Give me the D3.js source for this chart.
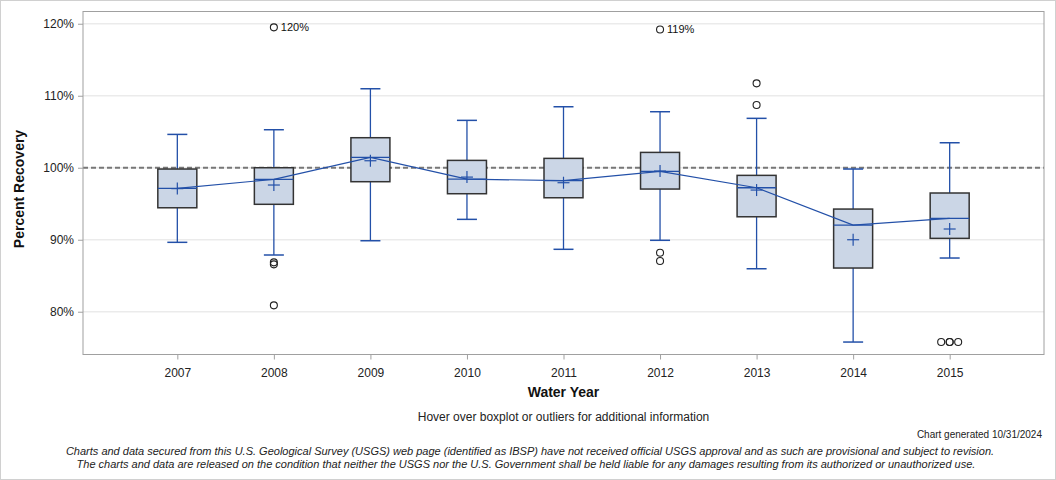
<!DOCTYPE html>
<html><head><meta charset="utf-8">
<script src="https://cdn.jsdelivr.net/npm/d3@7/dist/d3.min.js"></script>
<style>
body{margin:0;background:#fff;}
svg{display:block;font-family:"Liberation Sans",Arial,sans-serif;}
</style></head>
<body>
<svg id="c" width="1056" height="480"></svg>
<script>
const years = ["2007","2008","2009","2010","2011","2012","2013","2014","2015"];
const whiskerLow  = [89.64, 87.88, 89.86, 92.83, 88.67, 89.92, 85.97, 75.79, 87.46];
const q1          = [94.44, 94.92, 98.06, 96.39, 95.83, 97.04, 93.19, 86.07, 90.19];
const median      = [97.14, 98.39, 101.44, 98.43, 98.20, 99.50, 97.22, 92.04, 92.97];
const mean        = [97.10, 97.60, 100.97, 98.70, 97.92, 99.54, 96.90, 90.00, 91.49];
const q3          = [99.82, 100.00, 104.17, 101.02, 101.30, 102.13, 98.94, 94.26, 96.49];
const whiskerHigh = [104.63, 105.28, 110.97, 106.58, 108.47, 107.78, 106.86, 99.82, 103.47];
const outliers = [
  [],
  [119.5, 86.86, 86.58, 80.89],
  [],
  [],
  [],
  [119.2, 88.2, 87.04],
  [111.72, 108.71],
  [],
  [75.79, 75.79, 75.79, 75.79]
];
const clippedLabels = [
  {year:"2008", value:119.5, text:"120%"},
  {year:"2012", value:119.2, text:"119%"}
];
const yTicks = [80, 90, 100, 110, 120];
const referenceValue = 100;

const svg = d3.select("#c");
const W = 1056, H = 480;
const L = 83, R = 1044, T = 11.5, B = 354.5;

svg.append("rect").attr("x",0.5).attr("y",0.5).attr("width",W-1).attr("height",H-1)
  .attr("fill","#fff").attr("stroke","#d0d0d0");

const x = d3.scalePoint().domain(years).range([L, R]).padding(0.977);
const y = d3.scaleLinear().domain([74.06, 121.7]).range([B, T]);

// gridlines
svg.append("g").selectAll("line").data(yTicks).join("line")
  .attr("x1", L).attr("x2", R)
  .attr("y1", d => y(d)).attr("y2", d => y(d))
  .attr("stroke", "#ebebeb").attr("stroke-width", 1.5);

// reference line
svg.append("line").attr("x1", L).attr("x2", R)
  .attr("y1", y(referenceValue)).attr("y2", y(referenceValue))
  .attr("stroke", "#777").attr("stroke-width", 2).attr("stroke-dasharray", "5,3");

// frame
svg.append("rect").attr("x", L).attr("y", T).attr("width", R - L).attr("height", B - T)
  .attr("fill", "none").attr("stroke", "#a0a0a0");

// axes
const yAxis = svg.append("g").attr("transform", `translate(${L},0)`)
  .call(d3.axisLeft(y).tickValues(yTicks).tickSize(5).tickPadding(4).tickFormat(d => d + "%"));
yAxis.select(".domain").remove();
yAxis.selectAll("line").attr("stroke", "#a0a0a0");
yAxis.selectAll("text").attr("font-size", 12).attr("fill", "#222")
  .attr("font-family", '"Liberation Sans",Arial,sans-serif');

const xAxis = svg.append("g").attr("transform", `translate(0,${B})`)
  .call(d3.axisBottom(x).tickSize(5).tickPadding(9));
xAxis.select(".domain").remove();
xAxis.selectAll("line").attr("stroke", "#a0a0a0");
xAxis.selectAll("text").attr("font-size", 12).attr("fill", "#222")
  .attr("font-family", '"Liberation Sans",Arial,sans-serif');

const blue = "#2350a8";
const boxHalf = 19.5, capHalf = 10;
const data = years.map((yr, i) => ({yr, lo: whiskerLow[i], q1: q1[i], med: median[i], mean: mean[i], q3: q3[i], hi: whiskerHigh[i], out: outliers[i]}));

const g = svg.append("g");
data.forEach(d => {
  const cx = x(d.yr);
  g.append("line").attr("x1", cx).attr("x2", cx).attr("y1", y(d.q3)).attr("y2", y(d.hi)).attr("stroke", blue).attr("stroke-width", 1.3);
  g.append("line").attr("x1", cx).attr("x2", cx).attr("y1", y(d.q1)).attr("y2", y(d.lo)).attr("stroke", blue).attr("stroke-width", 1.3);
  g.append("line").attr("x1", cx - capHalf).attr("x2", cx + capHalf).attr("y1", y(d.hi)).attr("y2", y(d.hi)).attr("stroke", blue).attr("stroke-width", 1.5);
  g.append("line").attr("x1", cx - capHalf).attr("x2", cx + capHalf).attr("y1", y(d.lo)).attr("y2", y(d.lo)).attr("stroke", blue).attr("stroke-width", 1.5);
  g.append("rect").attr("x", cx - boxHalf).attr("y", y(d.q3)).attr("width", boxHalf * 2).attr("height", y(d.q1) - y(d.q3))
    .attr("fill", "#cbd6e6").attr("stroke", "#333").attr("stroke-width", 1.5);
  g.append("line").attr("x1", cx - boxHalf).attr("x2", cx + boxHalf).attr("y1", y(d.med)).attr("y2", y(d.med)).attr("stroke", blue).attr("stroke-width", 1.3);
  const my = y(d.mean);
  g.append("line").attr("x1", cx - 6).attr("x2", cx + 6).attr("y1", my).attr("y2", my).attr("stroke", blue).attr("stroke-width", 1.2);
  g.append("line").attr("x1", cx).attr("x2", cx).attr("y1", my - 6).attr("y2", my + 6).attr("stroke", blue).attr("stroke-width", 1.2);
});

// median line
svg.append("path").datum(data)
  .attr("d", d3.line().x(d => x(d.yr)).y(d => y(d.med)))
  .attr("fill", "none").attr("stroke", blue).attr("stroke-width", 1.2);

// outliers (identical values spread sideways)
const spread = [0, -8.5, 8.5, 0];
data.forEach(d => {
  const seen = {};
  d.out.forEach(v => {
    const k = v.toFixed(2);
    const n = seen[k] || 0; seen[k] = n + 1;
    svg.append("circle").attr("cx", x(d.yr) + spread[n % spread.length]).attr("cy", y(v)).attr("r", 3.5)
      .attr("fill", "none").attr("stroke", "#222").attr("stroke-width", 1.1);
  });
});

clippedLabels.forEach(l => {
  svg.append("text").attr("x", x(l.year) + 7).attr("y", y(l.value) + 4)
    .attr("font-size", 11).attr("fill", "#111").text(l.text);
});

// titles
svg.append("text").attr("transform", `translate(24,${(T + B) / 2 + 6}) rotate(-90)`)
  .attr("text-anchor", "middle").attr("font-size", 14).attr("font-weight", "bold").attr("fill", "#111")
  .text("Percent Recovery");
svg.append("text").attr("x", (L + R) / 2).attr("y", 397).attr("text-anchor", "middle")
  .attr("font-size", 14).attr("font-weight", "bold").attr("fill", "#111").text("Water Year");
svg.append("text").attr("x", (L + R) / 2).attr("y", 421).attr("text-anchor", "middle")
  .attr("font-size", 12).attr("fill", "#222").text("Hover over boxplot or outliers for additional information");
svg.append("text").attr("x", 1042).attr("y", 438).attr("text-anchor", "end")
  .attr("font-size", 10).attr("fill", "#222").text("Chart generated 10/31/2024");
svg.append("text").attr("x", 530).attr("y", 455).attr("text-anchor", "middle")
  .attr("font-size", 11).attr("font-style", "italic").attr("fill", "#222")
  .text("Charts and data secured from this U.S. Geological Survey (USGS) web page (identified as IBSP) have not received official USGS approval and as such are provisional and subject to revision.");
svg.append("text").attr("x", 526).attr("y", 468).attr("text-anchor", "middle")
  .attr("font-size", 11).attr("font-style", "italic").attr("fill", "#222")
  .text("The charts and data are released on the condition that neither the USGS nor the U.S. Government shall be held liable for any damages resulting from its authorized or unauthorized use.");
</script>
</body></html>
